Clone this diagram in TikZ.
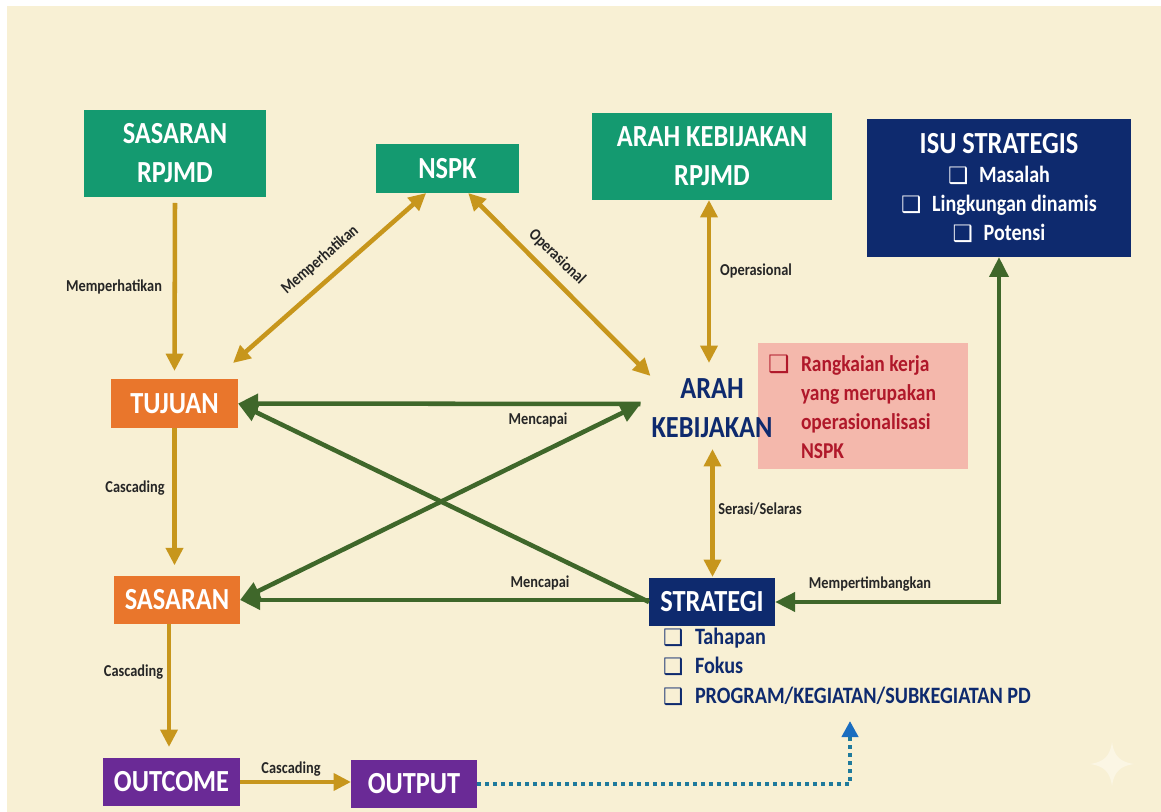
\documentclass[tikz,border=0pt]{standalone}
\usepackage{fontspec}
\setmainfont[FakeStretch=0.86]{Carlito}
\newfontfamily\symf{DejaVu Sans}
\usetikzlibrary{arrows.meta,calc}
\definecolor{bgc}{HTML}{F8F0D4}
\definecolor{gold}{HTML}{C7961C}
\definecolor{grn}{HTML}{3F672A}
\definecolor{teal}{HTML}{149A70}
\definecolor{orng}{HTML}{E9762C}
\definecolor{purp}{HTML}{6A2A96}
\definecolor{navy}{HTML}{0E2A6E}
\definecolor{redb}{HTML}{F4B8AC}
\definecolor{redt}{HTML}{B0182A}
\definecolor{dotc}{HTML}{1F7A9C}
\definecolor{blueh}{HTML}{1A6DC0}
\definecolor{starc}{HTML}{FBF6E4}
\newcommand{\cb}[1]{\raisebox{-0.8pt}{\fontsize{#1}{#1}\symf\bfseries\char"2751}}
\tikzset{
 box/.style={inner sep=0pt,outer sep=0pt,align=center,text=white,font=\bfseries},
 tl/.style={box,font=\fontsize{23}{29.25}\selectfont\bfseries},
 lbl/.style={inner sep=0pt,font=\fontsize{12.5}{14}\selectfont\bfseries,text=black!85},
 goldar/.style={draw=gold,line width=3.4pt,-{Triangle[length=13pt,width=12.5pt]}},
 goldbi/.style={draw=gold,line width=3.4pt,{Triangle[length=13pt,width=12.5pt]}-{Triangle[length=13pt,width=12.5pt]}},
 grnar/.style={draw=grn,line width=3.4pt,-{Triangle[length=15pt,width=14pt]}},
 grnbi/.style={draw=grn,line width=3.4pt,{Triangle[length=15pt,width=14pt]}-{Triangle[length=15pt,width=14pt]}},
 dotar/.style={draw=dotc,line width=3.2pt,dash pattern=on 3pt off 3pt,-{Triangle[length=12pt,width=12pt,fill=blueh,color=blueh]}}
}
\begin{document}
\begin{tikzpicture}[x=0.75pt,y=-0.75pt]
\useasboundingbox (0,0) rectangle (1161,812);
\fill[white] (0,0) rectangle (1161,812);
\fill[bgc] (7,6) rectangle (1161,812);
% star
\fill[starc] (1112,742) .. controls (1114,756) and (1120,762) .. (1134,764) .. controls (1120,766) and (1114,772) .. (1112,786) .. controls (1110,772) and (1104,766) .. (1090,764) .. controls (1104,762) and (1110,756) .. (1112,742) -- cycle;
% boxes
\node[tl,fill=teal,minimum width=136.5pt,minimum height=65.25pt] (sr) at (175,153.5) {SASARAN\\RPJMD};
\node[tl,fill=teal,minimum width=107.25pt,minimum height=36.75pt] (nspk) at (447.5,168.5) {NSPK};
\node[tl,fill=teal,minimum width=180pt,minimum height=65.25pt] (ak) at (712,156.5) {ARAH KEBIJAKAN\\RPJMD};
\node[box,fill=navy,minimum width=198pt,minimum height=103.5pt,font=\fontsize{17.5}{21.75}\selectfont\bfseries] (isu) at (999,188)
 {\raisebox{-1pt}{\fontsize{23}{24.75}\selectfont ISU STRATEGIS}\\[1.5pt]\cb{17}\hspace{8pt}Masalah\\\cb{17}\hspace{8pt}Lingkungan dinamis\\\cb{17}\hspace{8pt}Potensi};
\node[box,fill=redb,minimum width=157.5pt,minimum height=94.5pt] (rb) at (863,406) {};
\node[box,anchor=west,align=left,text=redt,font=\fontsize{17}{21.75}\selectfont\bfseries] (rt) at (768,407)
 {\makebox[24.75pt][l]{\cb{18}}Rangkaian kerja\\\hspace*{24.75pt}yang merupakan\\\hspace*{24.75pt}operasionalisasi\\\hspace*{24.75pt}NSPK};
\node[tl,text=navy] (arah) at (712,408) {ARAH\\KEBIJAKAN};
\node[tl,fill=orng,minimum width=95.25pt,minimum height=36.75pt] (tuj) at (174.5,403.5) {TUJUAN};
\node[tl,fill=orng,minimum width=94.5pt,minimum height=36pt] (sas) at (177,600) {SASARAN};
\node[tl,fill=purp,minimum width=102.75pt,minimum height=36pt] (outc) at (171.5,782) {OUTCOME};
\node[tl,fill=purp,minimum width=94.5pt,minimum height=36pt] (outp) at (414,784) {OUTPUT};
\node[tl,fill=navy,minimum width=94.5pt,minimum height=36pt] (str) at (712,602) {STRATEGI};
\node[box,anchor=north west,align=left,text=navy,font=\fontsize{17.6}{22}\selectfont\bfseries] (lst) at (663,628)
 {\makebox[24pt][l]{\cb{17}}Tahapan\\\makebox[24pt][l]{\cb{17}}Fokus\\\makebox[24pt][l]{\cb{17}}PROGRAM/KEGIATAN/SUBKEGIATAN PD};
\coordinate (prog) at (850,721);
% connectors
\draw[goldar] ([yshift=-4.5pt]sr.south) -- ([yshift=6pt]tuj.north);
\draw[goldbi] ([xshift=-16pt]nspk.south) -- ($(tuj.north east)+(-5,-16)$);
\draw[goldbi] ([xshift=15.5pt]nspk.south) -- ($(arah.west)+(-1,-32)$);
\draw[goldbi] (709,200) -- (709,363);
\draw[goldbi] (712.5,449) -- (712.5,577);
\draw[goldar] (tuj.south) -- ([yshift=8pt]sas.north -| tuj.south);
\draw[goldar] ([xshift=-6pt]sas.south) -- ([xshift=-6pt,yshift=8.25pt]outc.north -| sas.south);
\draw[goldar] (outc.east) -- (outp.west |- outc.east);
\draw[grnar] ($(arah.west)+(-11,-4)$) -- (tuj.east);
\draw[grnar] (str.west |- sas.east) -- (sas.east);
\draw[grnar] (str.west) -- (tuj.east);
\draw[grnbi] (sas.east) -- ($(arah.west)+(-11,-4)$);
\draw[grnbi] (str.east) -| (isu.south);
\draw[dotar] (outp.east) -| (prog);
% labels
\node[lbl] (l1) at (114,287) {Memperhatikan};
\node[lbl,rotate=41] (l2) at (320,260) {Memperhatikan};
\node[lbl,rotate=-44] (l3) at (557,257) {Operasional};
\node[lbl] (l4) at (756,271) {Operasional};
\node[lbl] (l5) at (538,420) {Mencapai};
\node[lbl] (l6) at (540,583) {Mencapai};
\node[lbl] (l7) at (135,488) {Cascading};
\node[lbl] (l8) at (133.5,672) {Cascading};
\node[lbl] (l9) at (291,769) {Cascading};
\node[lbl] (l10) at (760,509) {Serasi/Selaras};
\node[lbl] (l11) at (870,584) {Mempertimbangkan};
\end{tikzpicture}
\end{document}
